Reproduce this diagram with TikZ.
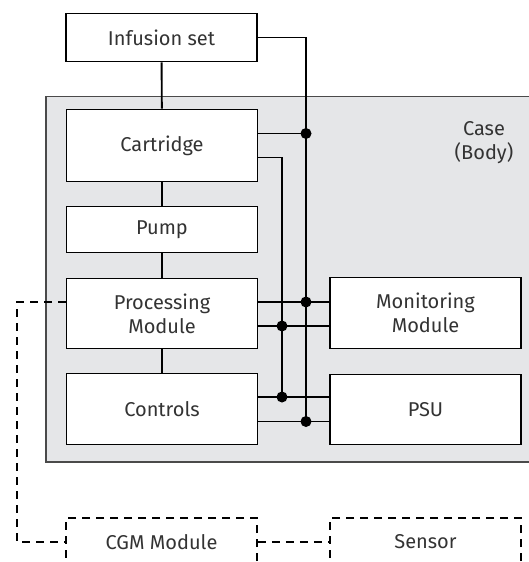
\documentclass[tikz,border=0pt]{standalone}
\usepackage{fontspec}
\setmainfont{Fira Sans}
\usetikzlibrary{calc}
\definecolor{casefill}{HTML}{E5E6E8}
\definecolor{caseedge}{HTML}{4A4A4A}
\definecolor{ink}{HTML}{333333}
\begin{document}
\begin{tikzpicture}[x=1pt,y=-1pt,
  unit/.style={draw=black, fill=white, line width=1.9pt, minimum width=191pt,
    inner sep=0pt, text=ink, align=center,
    font=\fontsize{20}{24}\selectfont},
  ext/.style={unit, fill=none, dash pattern=on 8pt off 6pt},
  wire/.style={line width=1.9pt},
  link/.style={line width=1.9pt, dash pattern=on 8pt off 6pt},
  joint/.style={circle, fill=black, inner sep=0pt, minimum size=11pt}]
\path[use as bounding box, clip] (0,0) rectangle (529,562);

% housing
\draw[fill=casefill, draw=caseedge, line width=1.5pt] (46,96.5) rectangle (545,462);
\node[text=ink, align=center, font=\fontsize{20}{24}\selectfont] (caselbl) at (484,143) {Case\\(Body)};

% left column
\node[unit, minimum height=48pt] (inf)  at (161.5,37.5) {Infusion set};
\node[unit, minimum height=72pt] (cart) at (162,145.5) {Cartridge};
\node[unit, minimum height=46pt] (pump) at (162,229.5) {Pump};
\node[unit, minimum height=70pt] (proc) at (162,313.5) {Processing\\Module};
\node[unit, minimum height=71pt] (ctl)  at (162,409) {Controls};

% right column
\node[unit, minimum height=71pt] (mon) at (425.5,313) {Monitoring\\Module};
\node[unit, minimum height=70pt] (psu) at (425.5,409.5) {PSU};

% external parts
\node[ext, minimum height=48pt] (cgm) at (161.5,542) {CGM Module};
\node[ext, minimum height=48pt] (sen) at (425.5,542) {Sensor};

% chain of the left column
\draw[wire] (inf) -- (cart);
\draw[wire] (cart) -- (pump);
\draw[wire] (pump) -- (proc);
\draw[wire] (proc) -- (ctl);

% bus tap points
\coordinate (cA) at (258,133.5);
\coordinate (cB) at (258,157.5);
\coordinate (pA) at (258,302);
\coordinate (pB) at (258,326);
\coordinate (kA) at (258,397);
\coordinate (kB) at (258,421.5);
\coordinate (busR) at (306,37.5);
\coordinate (busL) at (282,157.5);

% two vertical buses
\draw[wire] (inf.east) -- (busR) -- (busR |- kB);
\draw[wire] (cB) -- (busL) -- (busL |- kA);

% horizontal taps
\draw[wire] (cA) -- (busR |- cA);
\draw[wire] (pA) -- (pA -| mon.west);
\draw[wire] (pB) -- (pB -| mon.west);
\draw[wire] (kA) -- (kA -| psu.west);
\draw[wire] (kB) -- (kB -| psu.west);

% junction dots
\node[joint] (j1) at (busR |- cA) {};
\node[joint] (j2) at (busR |- pA) {};
\node[joint] (j3) at (busL |- pB) {};
\node[joint] (j4) at (busL |- kA) {};
\node[joint] (j5) at (busR |- kB) {};

% dashed links to the external parts
\coordinate (d1) at (17,302);
\coordinate (d2) at (17,542);
\draw[link] (proc.west |- pA) -- (d1) -- (d2) -- (cgm.west);
\draw[link] (cgm.east) -- (sen.west);
\end{tikzpicture}
\end{document}
